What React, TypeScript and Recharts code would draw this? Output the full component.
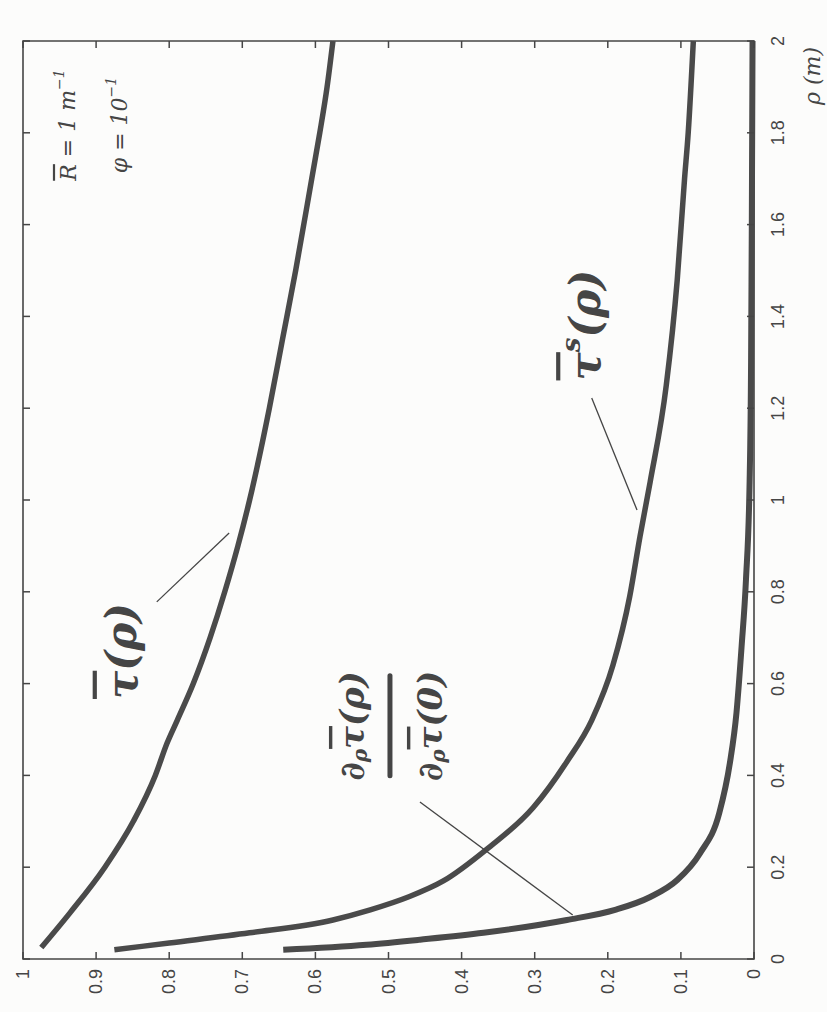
import { Line, LineChart, ReferenceArea, ReferenceDot, ReferenceLine, XAxis, YAxis } from 'recharts'

// ticks
const valueTicks = [0, 0.1, 0.2, 0.3, 0.4, 0.5, 0.6, 0.7, 0.8, 0.9, 1]
const rhoTicks = [0, 0.2, 0.4, 0.6, 0.8, 1, 1.2, 1.4, 1.6, 1.8, 2]

// tau bar (rho)
const tauRho = [0.025, 0.1, 0.2, 0.3, 0.4, 0.47, 0.52, 0.6, 0.7, 0.8, 0.9, 1.0, 1.2, 1.35, 1.5, 1.7, 1.8, 1.9, 2.0]
const tauValue = [0.975, 0.936, 0.888, 0.849, 0.819, 0.803, 0.789, 0.767, 0.744, 0.724, 0.706, 0.69, 0.663, 0.645, 0.627, 0.605, 0.594, 0.584, 0.576]

// tau bar ^s (rho)
const tauSRho = [0.02, 0.035, 0.057, 0.085, 0.107, 0.135, 0.17, 0.24, 0.33, 0.43, 0.52, 0.64, 0.79, 0.92, 1.04, 1.25, 1.48, 1.7, 1.8, 2.0]
const tauSValue = [0.875, 0.8, 0.69, 0.576, 0.525, 0.473, 0.425, 0.365, 0.302, 0.256, 0.222, 0.193, 0.17, 0.156, 0.142, 0.12, 0.105, 0.095, 0.09, 0.083]

// d tau(rho) / d tau(0)
const ratioRho = [0.02, 0.031, 0.042, 0.057, 0.085, 0.107, 0.135, 0.172, 0.23, 0.318, 0.427, 0.536, 0.68, 0.826, 1.04, 1.3, 1.6, 2.0]
const ratioValue = [0.644, 0.53, 0.457, 0.37, 0.256, 0.19, 0.142, 0.105, 0.074, 0.0475, 0.033, 0.024, 0.017, 0.011, 0.006, 0.004, 0.003, 0.002]

const toPoints = (rho: number[], v: number[]) => rho.map((r, i) => ({ rho: r, v: v[i] }))

const PLOT_TOP = 41
const PLOT_BOTTOM = 959
const PLOT_LEFT = 23
const PLOT_RIGHT = 754
const INK = '#454545'
const TICK_FONT = '"Liberation Sans", Arial, sans-serif'
const HAND_FONT = '"DejaVu Serif", serif'

function ValueTick({ x, payload }: any) {
  return (
    <g>
      <line x1={x} x2={x} y1={PLOT_BOTTOM} y2={PLOT_BOTTOM - 7} stroke={INK} strokeWidth={1.5} />
      <line x1={x} x2={x} y1={PLOT_TOP} y2={PLOT_TOP + 7} stroke={INK} strokeWidth={1.5} />
      <text x={x} y={969} transform={`rotate(-90, ${x}, 969)`} textAnchor="end" dominantBaseline="central" fontFamily={TICK_FONT} fontSize={18} fill={INK}>
        {String(payload.value)}
      </text>
    </g>
  )
}

function RhoTick({ y, payload }: any) {
  return (
    <g>
      <line x1={PLOT_RIGHT} x2={PLOT_RIGHT - 7} y1={y} y2={y} stroke={INK} strokeWidth={1.5} />
      <line x1={PLOT_LEFT} x2={PLOT_LEFT + 7} y1={y} y2={y} stroke={INK} strokeWidth={1.5} />
      <text x={778} y={y} transform={`rotate(-90, 778, ${y})`} textAnchor="middle" dominantBaseline="central" fontFamily={TICK_FONT} fontSize={18} fill={INK}>
        {String(payload.value)}
      </text>
    </g>
  )
}

function RhoAxisLabel({ viewBox }: any) {
  const x = viewBox.x + 58
  const y = viewBox.y + 6
  return (
    <text x={x} y={y} transform={`rotate(-90, ${x}, ${y})`} textAnchor="end" dominantBaseline="central" fontFamily={HAND_FONT} fontStyle="italic" fontSize={22} fill={INK}>
      ρ (m)
    </text>
  )
}

function Rotated({ cx, cy, children }: any) {
  return <g transform={`rotate(-90, ${cx}, ${cy})`}>{children}</g>
}

function TauLabel({ cx, cy }: any) {
  return (
    <Rotated cx={cx} cy={cy}>
      <text x={cx} y={cy} textAnchor="middle" dominantBaseline="central" fontFamily={HAND_FONT} fontStyle="italic" fontWeight="bold" fontSize={42} fill={INK}>
        <tspan textDecoration="overline">τ</tspan>(ρ)
      </text>
    </Rotated>
  )
}

function TauSLabel({ cx, cy }: any) {
  return (
    <Rotated cx={cx} cy={cy}>
      <text x={cx} y={cy} textAnchor="middle" dominantBaseline="central" fontFamily={HAND_FONT} fontStyle="italic" fontWeight="bold" fontSize={42} fill={INK}>
        <tspan textDecoration="overline">τ</tspan>
        <tspan fontSize={26} dy={-14}>s</tspan>
        <tspan dy={14}>(ρ)</tspan>
      </text>
    </Rotated>
  )
}

function RatioLabel({ cx, cy }: any) {
  return (
    <Rotated cx={cx} cy={cy}>
      <text x={cx} y={cy - 38} textAnchor="middle" dominantBaseline="central" fontFamily={HAND_FONT} fontStyle="italic" fontWeight="bold" fontSize={34} fill={INK}>
        ∂<tspan fontSize={20} dy={8}>ρ</tspan>
        <tspan dy={-8} textDecoration="overline">τ</tspan>(ρ)
      </text>
      <line x1={cx - 50} x2={cx + 50} y1={cy} y2={cy} stroke={INK} strokeWidth={5} strokeLinecap="round" />
      <text x={cx} y={cy + 40} textAnchor="middle" dominantBaseline="central" fontFamily={HAND_FONT} fontStyle="italic" fontWeight="bold" fontSize={34} fill={INK}>
        ∂<tspan fontSize={20} dy={8}>ρ</tspan>
        <tspan dy={-8} textDecoration="overline">τ</tspan>(0)
      </text>
    </Rotated>
  )
}

function ParamsLabel({ cx, cy }: any) {
  return (
    <Rotated cx={cx} cy={cy}>
      <text x={cx} y={cy - 26} textAnchor="middle" dominantBaseline="central" fontFamily={HAND_FONT} fontStyle="italic" fontSize={22} fill={INK}>
        <tspan textDecoration="overline">R</tspan> = 1 m<tspan fontSize={14} dy={-9}>−1</tspan>
      </text>
      <text x={cx} y={cy + 26} textAnchor="middle" dominantBaseline="central" fontFamily={HAND_FONT} fontStyle="italic" fontSize={22} fill={INK}>
        φ = 10<tspan fontSize={14} dy={-9}>−1</tspan>
      </text>
    </Rotated>
  )
}

export default function App() {
  return (
    <div style={{ position: 'absolute', left: 0, top: 0, width: 827, height: 1012, background: '#fcfcfb' }}>
      <LineChart width={827} height={1012} margin={{ top: PLOT_TOP, left: PLOT_LEFT, right: 13, bottom: 3 }}>
        <XAxis type="number" dataKey="v" domain={[0, 1]} reversed ticks={valueTicks} interval={0} height={50} axisLine={false} tickLine={false} tick={<ValueTick />} />
        <YAxis type="number" dataKey="rho" domain={[0, 2]} orientation="right" ticks={rhoTicks} interval={0} width={60} axisLine={false} tickLine={false} tick={<RhoTick />} label={{ content: <RhoAxisLabel /> }} />
        <ReferenceArea x1={0} x2={1} y1={0} y2={2} fill="none" stroke={INK} strokeWidth={1.6} fillOpacity={0} />

        <Line data={toPoints(tauRho, tauValue)} dataKey="rho" type="monotone" stroke="#4a4a4a" strokeWidth={5.5} dot={false} isAnimationActive={false} />
        <Line data={toPoints(tauSRho, tauSValue)} dataKey="rho" type="monotone" stroke="#4a4a4a" strokeWidth={5.5} dot={false} isAnimationActive={false} />
        <Line data={toPoints(ratioRho, ratioValue)} dataKey="rho" type="monotone" stroke="#4a4a4a" strokeWidth={6} dot={false} isAnimationActive={false} />

        <ReferenceLine segment={[{ x: 0.817, y: 0.778 }, { x: 0.718, y: 0.928 }]} stroke={INK} strokeWidth={1.3} />
        <ReferenceLine segment={[{ x: 0.222, y: 1.222 }, { x: 0.16, y: 0.978 }]} stroke={INK} strokeWidth={1.3} />
        <ReferenceLine segment={[{ x: 0.457, y: 0.342 }, { x: 0.248, y: 0.096 }]} stroke={INK} strokeWidth={1.3} />

        <ReferenceDot x={0.865} y={0.671} r={0} shape={(p: any) => <TauLabel cx={p.cx} cy={p.cy} />} />
        <ReferenceDot x={0.231} y={1.381} r={0} shape={(p: any) => <TauSLabel cx={p.cx} cy={p.cy} />} />
        <ReferenceDot x={0.498} y={0.508} r={0} shape={(p: any) => <RatioLabel cx={p.cx} cy={p.cy} />} />
        <ReferenceDot x={0.903} y={1.817} r={0} shape={(p: any) => <ParamsLabel cx={p.cx} cy={p.cy} />} />
      </LineChart>
    </div>
  )
}
